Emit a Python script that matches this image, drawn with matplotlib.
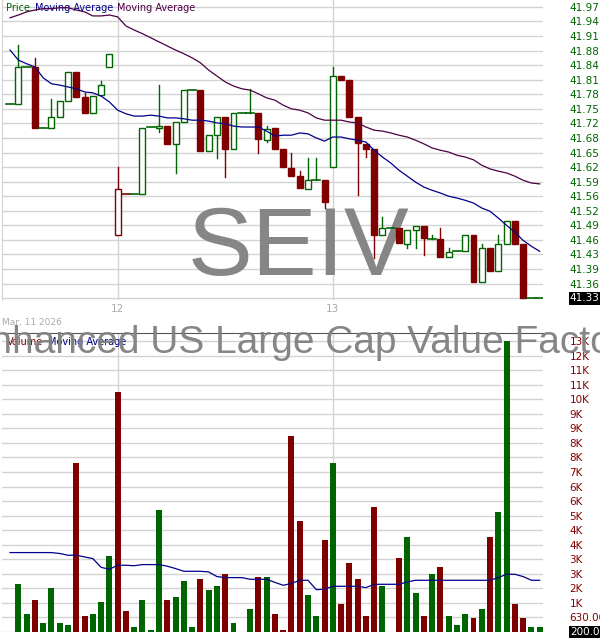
import numpy as np
import matplotlib
matplotlib.use("Agg")
import matplotlib.pyplot as plt
from matplotlib.patches import Rectangle

# candle data, one entry per bar (open, high, low, close)
opens = [41.757, 41.757, 41.838, 41.838, 41.704, 41.704, 41.728, 41.763, 41.827, 41.772,
         41.737, 41.776, 41.838, 41.468, 41.559, 41.559, 41.559, 41.706, 41.704, 41.708,
         41.669, 41.717, 41.787, 41.787, 41.653, 41.688, 41.728, 41.658, 41.737, 41.737,
         41.737, 41.677, 41.704, 41.658, 41.616, 41.598, 41.570, 41.589, 41.589, 41.618,
         41.818, 41.809, 41.728, 41.669, 41.658, 41.468, 41.484, 41.484, 41.449, 41.479,
         41.488, 41.460, 41.460, 41.420, 41.433, 41.433, 41.468, 41.365, 41.440, 41.389,
         41.449, 41.499, 41.449, 41.330, 41.330]
highs = [41.757, 41.886, 41.838, 41.858, 41.704, 41.768, 41.763, 41.827, 41.827, 41.781,
         41.774, 41.807, 41.867, 41.618, 41.559, 41.559, 41.704, 41.706, 41.798, 41.708,
         41.717, 41.787, 41.787, 41.787, 41.688, 41.728, 41.728, 41.737, 41.737, 41.790,
         41.737, 41.708, 41.704, 41.658, 41.649, 41.609, 41.638, 41.638, 41.589, 41.838,
         41.818, 41.809, 41.728, 41.669, 41.658, 41.508, 41.484, 41.484, 41.479, 41.488,
         41.488, 41.468, 41.484, 41.440, 41.433, 41.468, 41.468, 41.449, 41.440, 41.468,
         41.499, 41.499, 41.449, 41.330, 41.330]
lows = [41.757, 41.757, 41.838, 41.704, 41.704, 41.704, 41.728, 41.763, 41.772, 41.737,
        41.737, 41.776, 41.838, 41.468, 41.559, 41.559, 41.559, 41.706, 41.695, 41.669,
        41.605, 41.717, 41.787, 41.653, 41.653, 41.638, 41.596, 41.658, 41.737, 41.737,
        41.649, 41.673, 41.658, 41.618, 41.598, 41.572, 41.570, 41.589, 41.528, 41.618,
        41.809, 41.728, 41.556, 41.640, 41.418, 41.468, 41.484, 41.451, 41.440, 41.440,
        41.424, 41.460, 41.420, 41.420, 41.433, 41.433, 41.365, 41.365, 41.389, 41.389,
        41.449, 41.449, 41.330, 41.330, 41.330]
closes = [41.757, 41.838, 41.838, 41.704, 41.704, 41.728, 41.763, 41.827, 41.772, 41.737,
          41.774, 41.798, 41.867, 41.570, 41.559, 41.559, 41.704, 41.706, 41.708, 41.669,
          41.717, 41.787, 41.787, 41.653, 41.688, 41.728, 41.658, 41.737, 41.737, 41.737,
          41.680, 41.702, 41.658, 41.618, 41.598, 41.572, 41.589, 41.589, 41.541, 41.818,
          41.809, 41.728, 41.671, 41.658, 41.468, 41.484, 41.484, 41.451, 41.479, 41.488,
          41.462, 41.460, 41.420, 41.431, 41.433, 41.468, 41.365, 41.440, 41.389, 41.449,
          41.499, 41.449, 41.330, 41.330, 41.330]
# 'g' hollow green, 'r' filled red, 'h' hollow red
styles = ["g", "g", "g", "r", "g", "g", "g", "g", "r", "r",
          "g", "g", "g", "h", "r", "g", "g", "g", "g", "r",
          "g", "g", "g", "r", "g", "g", "r", "g", "g", "g",
          "r", "g", "r", "r", "r", "r", "g", "g", "r", "g",
          "r", "r", "r", "r", "r", "g", "g", "r", "g", "g",
          "r", "g", "r", "g", "g", "g", "r", "g", "r", "g",
          "g", "r", "r", "g", "g"]
ma_fast = [41.875, 41.853, 41.845, 41.838, 41.814, 41.801, 41.798, 41.794, 41.790, 41.783,
           41.781, 41.774, 41.761, 41.743, 41.735, 41.730, 41.730, 41.732, 41.730, 41.726,
           41.726, 41.724, 41.721, 41.721, 41.719, 41.715, 41.713, 41.708, 41.706, 41.706,
           41.706, 41.697, 41.686, 41.688, 41.688, 41.693, 41.691, 41.682, 41.675, 41.684,
           41.684, 41.680, 41.677, 41.673, 41.655, 41.640, 41.627, 41.611, 41.598, 41.585,
           41.574, 41.567, 41.561, 41.554, 41.550, 41.545, 41.539, 41.528, 41.521, 41.506,
           41.490, 41.475, 41.457, 41.444, 41.433]
ma_slow = [41.946, 41.952, 41.959, 41.963, 41.966, 41.966, 41.968, 41.968, 41.963, 41.959,
           41.950, 41.950, 41.952, 41.948, 41.928, 41.919, 41.911, 41.902, 41.893, 41.884,
           41.875, 41.867, 41.858, 41.847, 41.831, 41.818, 41.805, 41.796, 41.790, 41.787,
           41.779, 41.770, 41.765, 41.754, 41.746, 41.743, 41.737, 41.726, 41.721, 41.721,
           41.721, 41.717, 41.715, 41.706, 41.699, 41.697, 41.693, 41.688, 41.684, 41.677,
           41.669, 41.660, 41.655, 41.651, 41.644, 41.640, 41.634, 41.622, 41.614, 41.609,
           41.605, 41.598, 41.589, 41.583, 41.581]
volumes = [0, 2066, 766, 1373, 376, 1893, 376, 289, 7312, 679,
           766, 1286, 3280, 10390, 896, 202, 1373, 72, 5274, 1373,
           1503, 2196, 202, 2283, 1806, 1980, 2500, 376, 0, 983,
           2370, 2370, 766, 72, 8482, 4797, 1590, 679, 3974, 7312,
           1199, 2977, 2283, 679, 5404, 1980, 0, 3193, 4104, 1676,
           679, 2500, 2803, 679, 289, 766, 592, 983, 4104, 5188,
           12600, 1199, 592, 202, 202]
vol_ma = [3439, 3439, 3439, 3439, 3439, 3439, 3400, 3324, 3324, 3250,
          3179, 2800, 2717, 2890, 2890, 2870, 2919, 2919, 2919, 2850,
          2746, 2630, 2630, 2630, 2600, 2400, 2355, 2355, 2355, 2283,
          2283, 2283, 2150, 2023, 2100, 2240, 2240, 1835, 1850, 1980,
          1980, 1980, 1980, 1922, 2066, 2066, 2066, 2066, 2168, 2240,
          2240, 2240, 2240, 2240, 2240, 2240, 2240, 2240, 2240, 2355,
          2500, 2500, 2400, 2240, 2240]
price_ticks = ["41.97", "41.94", "41.91", "41.88", "41.84", "41.81", "41.78", "41.75", "41.72",
               "41.68", "41.65", "41.62", "41.59", "41.56", "41.52", "41.49", "41.46", "41.43",
               "41.39", "41.36", ""]
vol_ticks = ["13K", "12K", "11K", "11K", "10K", "9K", "9K", "8K", "8K", "7K", "6K", "6K",
             "5K", "4K", "4K", "3K", "3K", "2K", "1K", "630.00", ""]
day_labels = ["12", "13"]
day_pos = [13, 39]

GREEN = "#006400"
RED = "#800000"
BLUE = "#00008b"
PURPLE = "#4b0042"
GRID = "#d3d3d3"

fig = plt.figure(figsize=(6, 6.4), dpi=100)
W = 543 / 600
ax = fig.add_axes([0.003, 1 - 300 / 640, W - 0.003, 300 / 640])
axv = fig.add_axes([0.003, 8 / 640, W - 0.003, 299 / 640])
n = len(opens)
x = np.arange(n)
for a in (ax, axv):
    a.set_xlim(-1.0, 64.4)
    for s in a.spines.values():
        s.set_visible(False)
    a.tick_params(length=0, labelsize=7.5, pad=19)
    a.yaxis.tick_right()
    a.set_xticks([])
    a.grid(axis="y", color=GRID, lw=1)
    a.set_axisbelow(True)
    for p in day_pos:
        a.axvline(p, color=GRID, lw=1, zorder=0)
axv.spines["top"].set_visible(True)
axv.spines["top"].set_color("#555555")
ax.spines["left"].set_visible(True)
ax.spines["left"].set_color(GRID)

# price panel
top, step = 41.97, 0.032
ax.set_ylim(41.326, 41.985)
ax.set_yticks([top - i * step for i in range(21)])
ax.set_yticklabels(price_ticks, color=GREEN)
bw = 0.72
for i in range(n):
    o, h, l, c, st = opens[i], highs[i], lows[i], closes[i], styles[i]
    col = GREEN if st == "g" else RED
    lo_b, hi_b = min(o, c), max(o, c)
    if h > hi_b:
        ax.plot([i, i], [hi_b, h], color=col, lw=1, zorder=2)
    if l < lo_b:
        ax.plot([i, i], [l, lo_b], color=col, lw=1, zorder=2)
    if hi_b - lo_b < 0.001:
        ax.plot([i - 0.5, i + 0.5], [o, o], color=col, lw=1.2, zorder=3)
    else:
        ax.add_patch(Rectangle((i - bw / 2, lo_b), bw, hi_b - lo_b,
                               facecolor=RED if st == "r" else "white",
                               edgecolor=col, lw=1, zorder=3))
ax.plot(x, ma_fast, color=BLUE, lw=0.9, zorder=4)
ax.plot(x, ma_slow, color=PURPLE, lw=0.9, zorder=4)
ax.text(1 + 27 / 543, 41.33, "41.33", transform=ax.get_yaxis_transform(), ha="left",
        va="center", fontsize=7.5, color="white",
        bbox=dict(facecolor="black", pad=1, lw=0), clip_on=False)
ax.text(0.007, 0.99, "Price", transform=ax.transAxes, color=GREEN, fontsize=7, va="top")
ax.text(0.061, 0.99, "Moving Average", transform=ax.transAxes, color=BLUE, fontsize=7, va="top")
ax.text(0.212, 0.99, "Moving Average", transform=ax.transAxes, color=PURPLE, fontsize=7, va="top")
ax.text(0.549, 0.165, "SEIV", transform=ax.transAxes, ha="center", va="center",
        fontsize=70, family="Liberation Sans", color="#808080", alpha=0.95, zorder=1)
for lab, p in zip(day_labels, day_pos):
    ax.text(p, -0.015, lab, transform=ax.get_xaxis_transform(), ha="center", va="top",
            fontsize=7.5, color="#aaaaaa")
fig.text(0.004, 1 - 322 / 640, "Mar, 11 2026", fontsize=6.5, color="#aaaaaa", va="center")

# volume panel
vstep = 630
axv.set_ylim(0, 12947)
axv.set_yticks([vstep * (20 - i) for i in range(21)])
axv.set_yticklabels(vol_ticks, color=RED)
axv.bar(x, volumes, width=0.72, color=[GREEN if v == "g" else RED for v in styles], zorder=2)
axv.plot(x, vol_ma, color=BLUE, lw=0.9, zorder=3)
axv.text(1 + 27 / 543, 0, "200.00", transform=axv.get_yaxis_transform(), ha="left",
         va="center", fontsize=7.5, color="white",
         bbox=dict(facecolor="black", pad=1, lw=0), clip_on=False)
axv.text(0.009, 0.985, "Volume", transform=axv.transAxes, color=RED, fontsize=7, va="top", zorder=5)
axv.text(0.085, 0.985, "Moving Average", transform=axv.transAxes, color=BLUE, fontsize=7,
         va="top", zorder=5)
fig.text(0.5, 1 - 343 / 640, "SEI Enhanced US Large Cap Value Factor ETF", ha="center",
         va="center", fontsize=28, family="Liberation Sans", color="#808080", alpha=0.95, zorder=1)

fig.savefig("out.png", dpi=100)
